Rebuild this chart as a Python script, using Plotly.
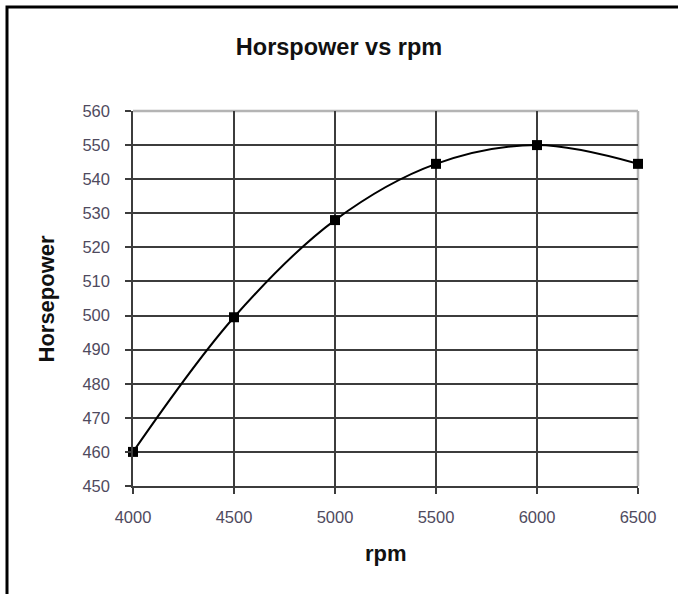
import plotly.graph_objects as go

rpm = [4000, 4500, 5000, 5500, 6000, 6500]
horsepower = [460, 499.5, 528, 544.5, 550, 544.5]
x_ticks = [4000, 4500, 5000, 5500, 6000, 6500]
y_ticks = [450, 460, 470, 480, 490, 500, 510, 520, 530, 540, 550, 560]

W, H = 678, 594
L, R, T, B = 133, 40, 111, 108
pw, ph = W - L - R, H - T - B

fig = go.Figure()
fig.add_trace(go.Scatter(
    x=rpm, y=horsepower, mode="lines+markers", cliponaxis=False,
    line=dict(color="black", width=2, shape="spline", smoothing=1.0),
    marker=dict(symbol="square", size=10, color="black"),
    showlegend=False, hoverinfo="skip"))

tickfont = dict(family="Liberation Sans, Arial, sans-serif", size=16.5, color="#4f4a5e")
titlefont = dict(family="Liberation Sans, Arial, sans-serif", size=22, color="#111111")

fig.update_layout(
    width=W, height=H,
    margin=dict(l=L, r=R, t=T, b=B),
    paper_bgcolor="white", plot_bgcolor="white",
    title=dict(text="<b>Horspower vs rpm</b>", x=0.5, xanchor="center",
               y=1 - 47 / H, yanchor="middle",
               font=dict(family="Liberation Sans, Arial, sans-serif", size=23.5, color="#111111")),
    xaxis=dict(range=[4000, 6500], tickvals=x_ticks, ticktext=[str(v) for v in x_ticks],
               showgrid=True, gridcolor="#3c3c3c", gridwidth=1.5,
               showline=True, linecolor="#3c3c3c", linewidth=1.5,
               ticks="outside", ticklen=6, tickcolor="#3c3c3c", tickwidth=1.5,
               tickfont=tickfont, ticklabelstandoff=9, zeroline=False, fixedrange=True),
    yaxis=dict(range=[450, 560], tickvals=y_ticks, ticktext=[str(v) for v in y_ticks],
               showgrid=True, gridcolor="#3c3c3c", gridwidth=1.5,
               showline=True, linecolor="#3c3c3c", linewidth=1.5,
               ticks="outside", ticklen=6, tickcolor="#3c3c3c", tickwidth=1.5,
               tickfont=tickfont, ticklabelstandoff=12, zeroline=False, fixedrange=True),
)

# light grey top and right plot-area border (over the grid, under the data)
fig.add_shape(type="line", xref="paper", yref="paper", x0=0, x1=1, y0=1, y1=1,
              line=dict(color="#b4b4b4", width=2.5), layer="between")
fig.add_shape(type="line", xref="paper", yref="paper", x0=1, x1=1, y0=0, y1=1,
              line=dict(color="#b4b4b4", width=2.5), layer="between")

# outer frame (top and left edges visible)
fx = (7 - L) / pw
fy = (H - B - 7) / ph
fbot = (H - B - H - 5) / ph
fright = (W + 5 - L) / pw
fig.add_shape(type="path", xref="paper", yref="paper",
              path=f"M {fx} {fbot} L {fx} {fy} L {fright} {fy}",
              line=dict(color="black", width=3), layer="above")

# axis titles
fig.add_annotation(text="<b>rpm</b>", xref="paper", yref="paper", x=0.5,
                   y=(H - B - 553) / ph, xanchor="center", yanchor="middle",
                   showarrow=False, font=titlefont)
fig.add_annotation(text="<b>Horsepower</b>", xref="paper", yref="paper",
                   x=(46 - L) / pw, y=0.5, xanchor="center", yanchor="middle",
                   textangle=-90, showarrow=False, font=titlefont)

fig.write_html("out.html", config=dict(displayModeBar=False))
